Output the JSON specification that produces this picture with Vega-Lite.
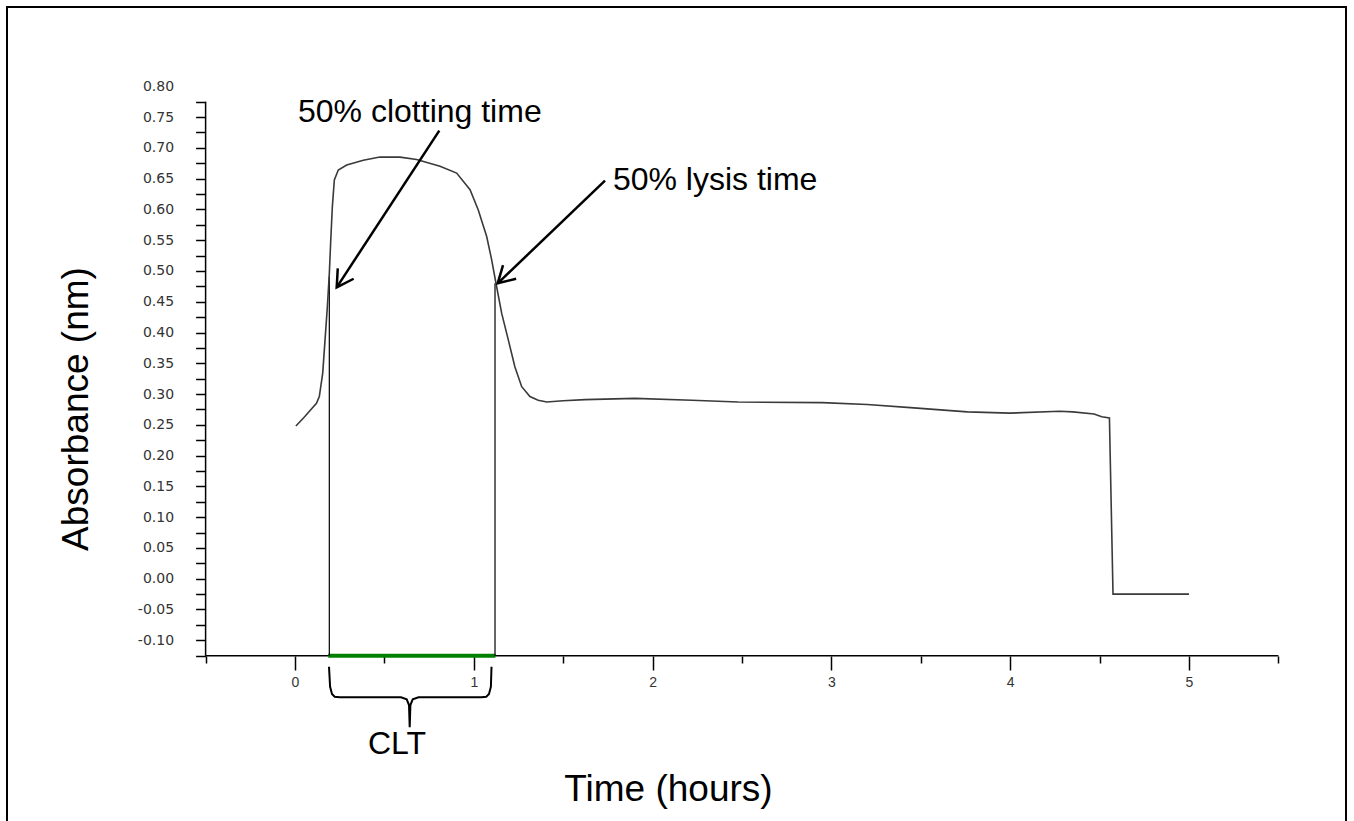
{
  "$schema": "https://vega.github.io/schema/vega-lite/v6.json",
  "width": 1339,
  "height": 816,
  "autosize": {"type": "none"},
  "padding": {"left": 7, "top": 7, "right": 8, "bottom": -2},
  "background": "white",
  "config": {
    "view": {"stroke": "black", "strokeWidth": 2, "fill": "white"},
    "font": "Liberation Sans"
  },
  "datasets": {
    "curve": [
      {"x": 0.005, "y": 0.248}, {"x": 0.05, "y": 0.262}, {"x": 0.093, "y": 0.276},
      {"x": 0.12, "y": 0.285}, {"x": 0.136, "y": 0.296}, {"x": 0.155, "y": 0.334},
      {"x": 0.168, "y": 0.388}, {"x": 0.181, "y": 0.442}, {"x": 0.192, "y": 0.496},
      {"x": 0.2, "y": 0.55}, {"x": 0.209, "y": 0.605}, {"x": 0.22, "y": 0.648},
      {"x": 0.242, "y": 0.664}, {"x": 0.289, "y": 0.672}, {"x": 0.382, "y": 0.68},
      {"x": 0.475, "y": 0.685}, {"x": 0.587, "y": 0.685}, {"x": 0.68, "y": 0.681},
      {"x": 0.811, "y": 0.67}, {"x": 0.904, "y": 0.659}, {"x": 0.979, "y": 0.632},
      {"x": 1.025, "y": 0.599}, {"x": 1.072, "y": 0.556}, {"x": 1.1, "y": 0.518},
      {"x": 1.124, "y": 0.48}, {"x": 1.156, "y": 0.431}, {"x": 1.193, "y": 0.388},
      {"x": 1.23, "y": 0.344}, {"x": 1.268, "y": 0.312}, {"x": 1.314, "y": 0.296},
      {"x": 1.36, "y": 0.29}, {"x": 1.408, "y": 0.287}, {"x": 1.5, "y": 0.289},
      {"x": 1.622, "y": 0.291}, {"x": 1.9, "y": 0.293}, {"x": 2.22, "y": 0.29},
      {"x": 2.478, "y": 0.287}, {"x": 2.949, "y": 0.286}, {"x": 3.2, "y": 0.283},
      {"x": 3.442, "y": 0.278}, {"x": 3.76, "y": 0.271}, {"x": 3.998, "y": 0.269},
      {"x": 4.276, "y": 0.272}, {"x": 4.35, "y": 0.271}, {"x": 4.469, "y": 0.2675},
      {"x": 4.512, "y": 0.263}, {"x": 4.555, "y": 0.261}, {"x": 4.575, "y": -0.025},
      {"x": 5.0, "y": -0.025}
    ],
    "brace": [
      {"i": 1, "x": 0.1902, "y": -0.143}, {"i": 2, "x": 0.1963, "y": -0.1755},
      {"i": 3, "x": 0.2069, "y": -0.1873}, {"i": 4, "x": 0.222, "y": -0.1917},
      {"i": 5, "x": 0.25, "y": -0.1927}, {"i": 6, "x": 0.5928, "y": -0.1927},
      {"i": 7, "x": 0.6247, "y": -0.1959}, {"i": 8, "x": 0.6376, "y": -0.2052},
      {"i": 9, "x": 0.6415, "y": -0.2414}, {"i": 10, "x": 0.6454, "y": -0.2052},
      {"i": 11, "x": 0.6583, "y": -0.1959}, {"i": 12, "x": 0.6907, "y": -0.1927},
      {"i": 13, "x": 1.042, "y": -0.1927}, {"i": 14, "x": 1.0699, "y": -0.1917},
      {"i": 15, "x": 1.085, "y": -0.1873}, {"i": 16, "x": 1.0956, "y": -0.1755},
      {"i": 17, "x": 1.099, "y": -0.143}
    ]
  },
  "encoding": {
    "x": {
      "field": "x", "type": "quantitative",
      "scale": {"domain": [-1.61074, 5.87808], "nice": false, "zero": false},
      "axis": {
        "orient": "bottom", "offset": -167, "domain": false, "grid": false,
        "values": [-0.5, 0, 0.5, 1, 1.5, 2, 2.5, 3, 3.5, 4, 4.5, 5, 5.5],
        "tickSize": {"condition": {"test": "datum.value % 1 == 0", "value": 14}, "value": 7},
        "tickColor": "black", "tickWidth": 1.5,
        "labelExpr": "datum.value % 1 == 0 ? format(datum.value, 'd') : ''",
        "labelFont": "Liberation Sans", "labelFontSize": 14, "labelColor": "#333",
        "labelPadding": 5, "labelOverlap": false, "labelFlush": false, "labelBound": false,
        "title": "Time (hours)", "titleFont": "Liberation Sans", "titleFontSize": 37,
        "titleFontWeight": "normal", "titleColor": "black",
        "titleX": 661, "titleY": 144, "titleAlign": "center", "titleBaseline": "alphabetic", "titleAngle": 0
      }
    },
    "y": {
      "field": "y", "type": "quantitative",
      "scale": {"domain": [-0.39691, 0.92884], "nice": false, "zero": false},
      "axis": {
        "orient": "left", "offset": -198.6, "domain": false, "grid": false,
        "values": [-0.125, -0.1, -0.075, -0.05, -0.025, 0, 0.025, 0.05, 0.075, 0.1, 0.125, 0.15, 0.175, 0.2, 0.225, 0.25, 0.275, 0.3, 0.325, 0.35, 0.375, 0.4, 0.425, 0.45, 0.475, 0.5, 0.525, 0.55, 0.575, 0.6, 0.625, 0.65, 0.675, 0.7, 0.725, 0.75, 0.775, 0.8],
        "tickSize": 10, "tickColor": "black", "tickWidth": 1.5,
        "tickOpacity": {"condition": {"test": "datum.value > 0.79", "value": 0}, "value": 1},
        "labelExpr": "abs(datum.value * 20 - round(datum.value * 20)) < 0.001 ? replace(format(datum.value, '.2f'), '\u2212', '-') : ''",
        "labelFont": "DejaVu Sans", "labelFontSize": 14, "labelColor": "#333",
        "labelPadding": 22, "labelOverlap": false, "labelFlush": false, "labelBound": false,
        "title": "Absorbance (nm)", "titleFont": "Liberation Sans", "titleFontSize": 37,
        "titleFontWeight": "normal", "titleColor": "black",
        "titleX": -118.6, "titleY": 401.5, "titleAngle": -90, "titleAlign": "center", "titleBaseline": "alphabetic"
      }
    }
  },
  "layer": [
    {
      "data": {"values": [
        {"x": -0.5, "y": -0.125, "x2": 5.5, "y2": -0.125},
        {"x": -0.5, "y": -0.125, "x2": -0.5, "y2": 0.775}
      ]},
      "mark": {"type": "rule", "color": "black", "strokeWidth": 1.5},
      "encoding": {"x2": {"field": "x2"}, "y2": {"field": "y2"}}
    },
    {
      "data": {"values": [{"x": 0.186, "x2": 1.121, "y": -0.125}]},
      "mark": {"type": "rule", "color": "#008000", "strokeWidth": 4},
      "encoding": {"x2": {"field": "x2"}}
    },
    {
      "data": {"values": [
        {"x": 0.1919, "y": -0.125, "y2": 0.491},
        {"x": 1.1186, "y": -0.125, "y2": 0.48}
      ]},
      "mark": {"type": "rule", "color": "black", "strokeWidth": 1.2},
      "encoding": {"y2": {"field": "y2"}}
    },
    {
      "data": {"name": "curve"},
      "mark": {"type": "line", "color": "#3a3a3a", "strokeWidth": 1.6},
      "encoding": {}
    },
    {
      "data": {"name": "brace"},
      "mark": {"type": "line", "color": "black", "strokeWidth": 2},
      "encoding": {"order": {"field": "i", "type": "quantitative"}}
    },
    {
      "data": {"values": [
        {"x": 0.807, "y": 0.7279, "x2": 0.2332, "y2": 0.4734},
        {"x": 1.7338, "y": 0.6466, "x2": 1.1337, "y2": 0.4799}
      ]},
      "mark": {"type": "rule", "color": "black", "strokeWidth": 2.5},
      "encoding": {"x2": {"field": "x2"}, "y2": {"field": "y2"}}
    },
    {
      "data": {"values": [{"x": 0.2332, "y": 0.4734}]},
      "mark": {"type": "point", "shape": "M-1,-0.577L0,0L-1,0.577", "filled": false, "stroke": "black", "strokeWidth": 2.5, "opacity": 1, "size": 1083, "angle": 123.2},
      "encoding": {}
    },
    {
      "data": {"values": [{"x": 1.1337, "y": 0.4799}]},
      "mark": {"type": "point", "shape": "M-1,-0.577L0,0L-1,0.577", "filled": false, "stroke": "black", "strokeWidth": 2.5, "opacity": 1, "size": 1083, "angle": 136.3},
      "encoding": {}
    },
    {
      "data": {"values": [
        {"x": 0.0168, "y": 0.742, "label": "50% clotting time"},
        {"x": 1.778, "y": 0.631, "label": "50% lysis time"}
      ]},
      "mark": {"type": "text", "align": "left", "baseline": "alphabetic", "font": "Liberation Sans", "fontSize": 32, "color": "black"},
      "encoding": {"text": {"field": "label"}}
    },
    {
      "data": {"values": [{"x": 0.57, "y": -0.2848, "label": "CLT"}]},
      "mark": {"type": "text", "align": "center", "baseline": "alphabetic", "font": "Liberation Sans", "fontSize": 32, "color": "black"},
      "encoding": {"text": {"field": "label"}}
    }
  ]
}
